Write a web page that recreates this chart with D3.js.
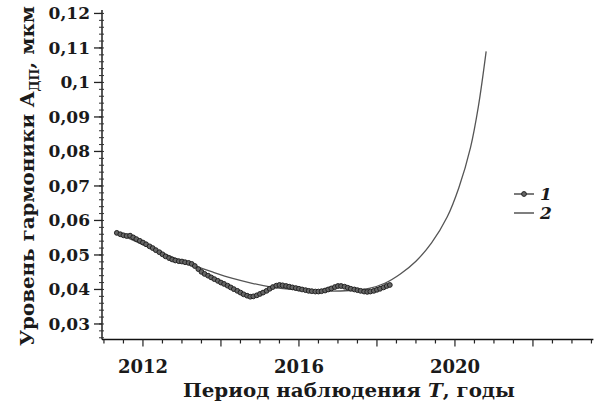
<!DOCTYPE html>
<html><head><meta charset="utf-8">
<script src="https://cdn.jsdelivr.net/npm/d3@7"></script>
<style>body{margin:0;background:#fff}svg{display:block}</style>
</head><body>
<svg id="c" width="600" height="405"></svg>
<script>
// Series 1: measured (monthly)
const years1 = [2011.33,2011.42,2011.50,2011.58,2011.67,2011.75,2011.83,2011.92,
2012.00,2012.08,2012.17,2012.25,2012.33,2012.42,2012.50,2012.58,2012.67,2012.75,2012.83,2012.92,
2013.00,2013.08,2013.17,2013.25,2013.33,2013.42,2013.50,2013.58,2013.67,2013.75,2013.83,2013.92,
2014.00,2014.08,2014.17,2014.25,2014.33,2014.42,2014.50,2014.58,2014.67,2014.75,2014.83,2014.92,
2015.00,2015.08,2015.17,2015.25,2015.33,2015.42,2015.50,2015.58,2015.67,2015.75,2015.83,2015.92,
2016.00,2016.08,2016.17,2016.25,2016.33,2016.42,2016.50,2016.58,2016.67,2016.75,2016.83,2016.92,
2017.00,2017.08,2017.17,2017.25,2017.33,2017.42,2017.50,2017.58,2017.67,2017.75,2017.83,2017.92,
2018.00,2018.08,2018.17,2018.25,2018.33];
const values1 = [0.0564,0.0560,0.0557,0.0555,0.0556,0.0551,0.0546,0.0541,
0.0536,0.0531,0.0525,0.0520,0.0514,0.0508,0.0502,0.0496,0.0491,0.0487,0.0484,0.0482,
0.0481,0.0479,0.0477,0.0474,0.0468,0.0459,0.0451,0.0445,0.0440,0.0435,0.0430,0.0425,
0.0420,0.0416,0.0411,0.0406,0.0401,0.0396,0.0391,0.0386,0.0382,0.0379,0.0380,0.0383,
0.0387,0.0391,0.0396,0.0402,0.0407,0.0411,0.0413,0.0412,0.0410,0.0408,0.0406,0.0404,
0.0402,0.0400,0.0398,0.0396,0.0395,0.0394,0.0394,0.0395,0.0397,0.0400,0.0403,0.0407,
0.0410,0.0410,0.0408,0.0405,0.0402,0.0400,0.0398,0.0396,0.0394,0.0393,0.0394,0.0396,
0.0399,0.0402,0.0406,0.0410,0.0413];
// Series 2: trend / forecast
const years2 = [2011.3,2011.8,2012.3,2012.8,2013.3,2013.8,2014.3,2014.8,2015.3,2015.8,2016.3,2016.8,2017.3,2017.8,2018.2,2018.6,2019.0,2019.4,2019.8,2020.1,2020.4,2020.6,2020.8];
const values2 = [0.0565,0.0540,0.0515,0.0492,0.0470,0.0450,0.0432,0.0418,0.0407,0.0400,0.0396,0.0395,0.0397,0.0403,0.0418,0.0445,0.0482,0.0535,0.0610,0.0695,0.0812,0.0930,0.1090];
const xTickLabels = [2012, 2016, 2020];
const yTickValues = [0.03,0.04,0.05,0.06,0.07,0.08,0.09,0.10,0.11,0.12];
const yTickLabels = ["0,03","0,04","0,05","0,06","0,07","0,08","0,09","0,1","0,11","0,12"];
const legendLabels = ["1","2"];

const svg = d3.select("#c");
const x = d3.scaleLinear().domain([2010.95, 2023.55]).range([102, 593.4]);
const y = d3.scaleLinear().domain([0.0255, 0.121]).range([339.5, 10]);
const serif = "'DejaVu Serif', 'Liberation Serif', serif";

// axes lines
svg.append("line").attr("x1",x(2010.95)).attr("x2",x(2023.55)).attr("y1",y(0.0255)).attr("y2",y(0.0255)).attr("stroke","#111").attr("stroke-width",1.4);
svg.append("line").attr("x1",x(2010.95)).attr("x2",x(2010.95)).attr("y1",y(0.0255)).attr("y2",y(0.121)).attr("stroke","#111").attr("stroke-width",1.4);

// x ticks
const xMinor = d3.range(2011, 2023.6, 0.5);
svg.selectAll(".xt").data(xMinor).enter().append("line")
  .attr("x1",d=>x(d)).attr("x2",d=>x(d)).attr("y1",y(0.0255))
  .attr("y2",d=> y(0.0255) + (Math.abs(d%2)<1e-6 ? 7 : 4))
  .attr("stroke","#222").attr("stroke-width",1.2);
svg.selectAll(".xl").data(xTickLabels).enter().append("text")
  .attr("x",d=>x(d)).attr("y",373).attr("text-anchor","middle")
  .attr("font-family",serif).attr("font-weight","bold").attr("font-size",18)
  .attr("fill","#1a1a1a").text(d=>d);

// y ticks
const yMinor = d3.range(0.026, 0.1211, 0.002);
svg.selectAll(".ym").data(yMinor).enter().append("line")
  .attr("x1",x(2010.95)-3).attr("x2",x(2010.95)+2).attr("y1",d=>y(d)).attr("y2",d=>y(d))
  .attr("stroke","#333").attr("stroke-width",1);
svg.selectAll(".yt").data(yTickValues).enter().append("line")
  .attr("x1",x(2010.95)-8).attr("x2",x(2010.95)).attr("y1",d=>y(d)).attr("y2",d=>y(d))
  .attr("stroke","#222").attr("stroke-width",1.3);
svg.selectAll(".yl").data(yTickValues).enter().append("text")
  .attr("x",90).attr("y",d=>y(d)+6).attr("text-anchor","end")
  .attr("font-family",serif).attr("font-weight","bold").attr("font-size",17)
  .attr("fill","#1a1a1a").text((d,i)=>yTickLabels[i]);

// series 2 (trend)
const d2 = years2.map((t,i)=>[t, values2[i]]);
svg.append("path").datum(d2)
  .attr("d", d3.line().x(d=>x(d[0])).y(d=>y(d[1])).curve(d3.curveCatmullRom))
  .attr("fill","none").attr("stroke","#555").attr("stroke-width",1.3);

// series 1
const d1 = years1.map((t,i)=>[t, values1[i]]);
svg.append("path").datum(d1)
  .attr("d", d3.line().x(d=>x(d[0])).y(d=>y(d[1])))
  .attr("fill","none").attr("stroke","#222").attr("stroke-width",1.3);
svg.selectAll(".p1").data(d1).enter().append("circle")
  .attr("cx",d=>x(d[0])).attr("cy",d=>y(d[1])).attr("r",2.4)
  .attr("fill","#666").attr("stroke","#222").attr("stroke-width",1);

// legend
const lg = svg.append("g");
lg.append("line").attr("x1",514).attr("x2",534).attr("y1",194).attr("y2",194).attr("stroke","#333").attr("stroke-width",1.3);
lg.append("circle").attr("cx",524).attr("cy",194).attr("r",2.4).attr("fill","#666").attr("stroke","#222");
lg.append("line").attr("x1",514).attr("x2",534).attr("y1",213).attr("y2",213).attr("stroke","#555").attr("stroke-width",1.5);
lg.selectAll("text").data(legendLabels).enter().append("text")
  .attr("x",540).attr("y",(d,i)=>200+i*19)
  .attr("font-family",serif).attr("font-weight","bold").attr("font-style","italic").attr("font-size",17)
  .attr("fill","#1a1a1a").text(d=>d);

// x title
const xt = svg.append("text").attr("x",349).attr("y",397).attr("text-anchor","middle")
  .attr("font-family",serif).attr("font-weight","bold").attr("font-size",19).attr("fill","#1a1a1a")
  .attr("textLength",332).attr("lengthAdjust","spacingAndGlyphs");
xt.append("tspan").text("Период наблюдения ");
xt.append("tspan").attr("font-style","italic").text("T");
xt.append("tspan").text(", годы");

// y title
const yt = svg.append("text").attr("transform","translate(34,176) rotate(-90)").attr("text-anchor","middle")
  .attr("font-family",serif).attr("font-weight","bold").attr("font-size",19).attr("fill","#1a1a1a")
  .attr("textLength",340).attr("lengthAdjust","spacingAndGlyphs");
yt.append("tspan").text("Уровень гармоники A");
yt.append("tspan").attr("font-size",12).attr("dy",5).text("ДП");
yt.append("tspan").attr("dy",-5).text(", мкм");
</script>
</body></html>
